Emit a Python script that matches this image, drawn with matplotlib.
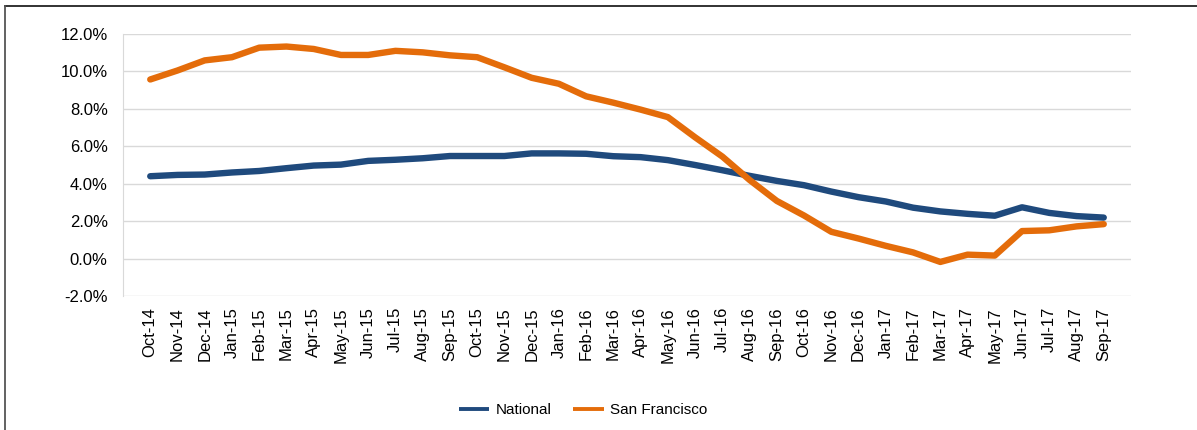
import matplotlib
matplotlib.use('Agg')
import matplotlib.pyplot as plt
from matplotlib.lines import Line2D
from matplotlib.ticker import FuncFormatter
import numpy as np

plt.rcParams['font.family'] = ['Liberation Sans', 'DejaVu Sans']

months = ['Oct-14', 'Nov-14', 'Dec-14', 'Jan-15', 'Feb-15', 'Mar-15', 'Apr-15', 'May-15',
          'Jun-15', 'Jul-15', 'Aug-15', 'Sep-15', 'Oct-15', 'Nov-15', 'Dec-15', 'Jan-16',
          'Feb-16', 'Mar-16', 'Apr-16', 'May-16', 'Jun-16', 'Jul-16', 'Aug-16', 'Sep-16',
          'Oct-16', 'Nov-16', 'Dec-16', 'Jan-17', 'Feb-17', 'Mar-17', 'Apr-17', 'May-17',
          'Jun-17', 'Jul-17', 'Aug-17', 'Sep-17']

national = [4.40, 4.47, 4.49, 4.60, 4.68, 4.83, 4.97, 5.02, 5.22, 5.28, 5.36, 5.48,
            5.48, 5.48, 5.62, 5.62, 5.60, 5.47, 5.42, 5.26, 5.00, 4.72, 4.42, 4.15,
            3.92, 3.58, 3.28, 3.05, 2.72, 2.52, 2.39, 2.29, 2.74, 2.44, 2.27, 2.19]

san_francisco = [9.57, 10.05, 10.59, 10.76, 11.27, 11.33, 11.20, 10.88, 10.88, 11.10,
                 11.02, 10.86, 10.76, 10.22, 9.66, 9.34, 8.67, 8.33, 7.96, 7.56, 6.48,
                 5.45, 4.20, 3.08, 2.30, 1.43, 1.07, 0.68, 0.33, -0.18, 0.21, 0.16, 1.47,
                 1.51, 1.72, 1.84]

fig = plt.figure(figsize=(11.97, 4.30), dpi=100)
ax = fig.add_axes([123 / 1197, 1 - 296 / 430, (1131 - 123) / 1197, (296 - 34) / 430])

x = np.arange(len(months))
ax.plot(x, national, color='#1F4A7D', lw=4.6, label='National', solid_capstyle='round')
ax.plot(x, san_francisco, color='#E46C0A', lw=4.6, label='San Francisco', solid_capstyle='round')

ax.set_xlim(-1, len(months))
ax.set_ylim(-2, 12)
ax.set_yticks(np.arange(-2, 12.1, 2))
ax.yaxis.set_major_formatter(FuncFormatter(lambda v, p: f'{v:.1f}%'))
ax.set_xticks(x)
ax.set_xticklabels(months, rotation=90, fontsize=12)
ax.tick_params(axis='y', labelsize=12, length=0, pad=11)
ax.tick_params(axis='x', length=0, pad=8)
ax.grid(axis='y', color='#D9D9D9', lw=1)
ax.set_axisbelow(True)
for s in ['top', 'right', 'bottom']:
    ax.spines[s].set_visible(False)
ax.spines['left'].set_color('#D9D9D9')

leg = fig.legend(loc='center', bbox_to_anchor=(0.487, 1 - 410 / 430), ncol=2, frameon=False,
                 fontsize=11, handlelength=2.0, columnspacing=1.45, handletextpad=0.4)
for h in leg.get_lines():
    h.set_linewidth(2.8)
    h.set_solid_capstyle('butt')

# outer chart frame (only top and left edges visible)
fig.add_artist(Line2D([4.5 / 1197, 1], [1 - 6 / 430, 1 - 6 / 430], color='#222222', lw=1.3,
                      transform=fig.transFigure))
fig.add_artist(Line2D([4.5 / 1197, 4.5 / 1197], [0, 1 - 6 / 430], color='#555555', lw=1.3,
                      transform=fig.transFigure))

fig.savefig('out.png', dpi=100)
